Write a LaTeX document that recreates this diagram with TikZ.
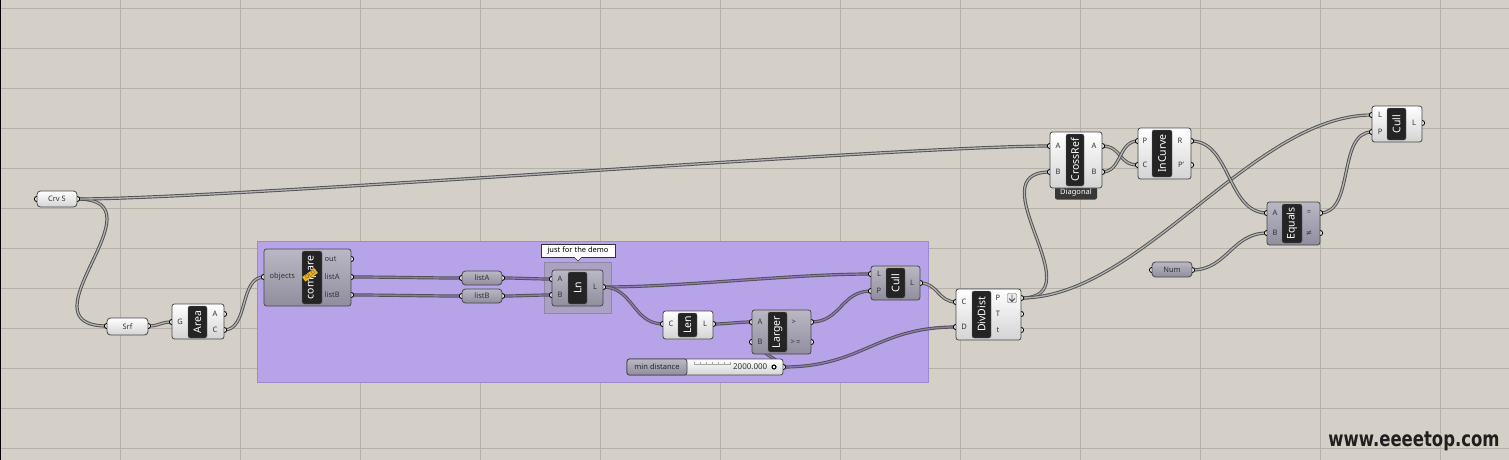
\documentclass[tikz,border=0pt]{standalone}
\usepackage{fontspec}
\setmainfont{Noto Sans}
\newfontfamily\dvs{DejaVu Sans}
\definecolor{canvas}{HTML}{D4D0C8}
\definecolor{gridc}{HTML}{B5B1A9}
\definecolor{grpc}{HTML}{B7A3E8}
\definecolor{grpb}{HTML}{9E8ACB}
\definecolor{lngrp}{HTML}{ABA1C2}
\definecolor{lngrpb}{HTML}{8F87A6}
\definecolor{dktop}{HTML}{BAB8C4}
\definecolor{dkbot}{HTML}{908E9E}
\definecolor{gwc}{HTML}{8A7AB2}
\definecolor{badge}{HTML}{F2B21C}
\pgfdeclarelayer{grid}
\pgfdeclarelayer{grp}
\pgfdeclarelayer{wire}
\pgfdeclarelayer{knob}
\pgfsetlayers{grid,grp,wire,knob,main}
\newcommand{\comp}[6]{\node[#2, minimum width={#5-#3}, minimum height={#6-#4}] (#1) at ({(#3+#5)/2},{(#4+#6)/2}) {};}
\newcommand{\lbl}[6]{\node[lblbox, minimum width={#5-#3}, minimum height={#4-#2}] (#1) at ({(#2+#4)/2},{(#3+#5)/2}) {#6};}
\newcommand{\pin}[3]{\coordinate (#1) at (#2,#3);\begin{pgfonlayer}{knob}\draw[knobst] (#1) circle[radius=2.6pt];\end{pgfonlayer}}
\newcommand{\ptx}[5]{\node[ptxt, anchor=#2] (#1) at (#3,#4) {#5};}
\begin{document}
\begin{tikzpicture}[x=1pt,y=-1pt,
  lt/.style={draw=black!72, line width=0.8pt, rounded corners=2.5pt, top color=white, bottom color=black!17, inner sep=0pt},
  dk/.style={draw=black!72, line width=0.8pt, rounded corners=2.5pt, top color=dktop, bottom color=dkbot, inner sep=0pt},
  prm/.style={lt, rounded corners=3.5pt, font=\fontsize{7.5}{8}\selectfont, text=black!80},
  prmd/.style={dk, rounded corners=3.5pt, font=\fontsize{7.5}{8}\selectfont, text=black!85},
  lblbox/.style={rotate=90, draw=black!55, fill=black!86, rounded corners=2pt, text=white, inner sep=0pt, font=\bfseries\fontsize{10.5}{10.5}\selectfont},
  knobst/.style={fill=white, draw=black, line width=0.9pt},
  ptxt/.style={inner sep=0.5pt, font=\fontsize{7.5}{8}\selectfont, text=black!80},
  wire/.style={double=#1, double distance=1.3pt, line width=0.95pt, draw=black!68},
  wire/.default={black!30},
  gwire/.style={wire=gwc}
]
\useasboundingbox (0,0) rectangle (1509,460);
% ---------------- canvas and grid
\begin{pgfonlayer}{grid}
\fill[canvas] (0,0) rectangle (1509,460);
\foreach \gx in {120,240,...,1440} \draw[gridc, line width=0.8pt] (\gx,0) -- (\gx,460);
\foreach \gy in {8,48,...,448} \draw[gridc, line width=0.8pt] (0,\gy) -- (1509,\gy);
\draw[black, line width=1.2pt] (0.6,0) -- (0.6,460);
\end{pgfonlayer}
% ---------------- groups
\begin{pgfonlayer}{grp}
\node[draw=grpb, fill=grpc, line width=0.8pt, minimum width=671, minimum height=141, inner sep=0pt] (grp) at (592.5,311.5) {};
\node[draw=lngrpb, fill=lngrp, line width=0.6pt, minimum width=67, minimum height=51, inner sep=0pt] (lngroup) at (577.5,287.5) {};
\end{pgfonlayer}
% tooltip
\node[draw=black!80, fill=white, font=\fontsize{7.5}{8}\selectfont, inner sep=0pt, minimum width=74, minimum height=13] (tip) at (578,250.5) {just for the demo};
\draw[black!80, fill=white, line width=0.4pt] (574,257) -- (578,261) -- (582,257);
\fill[white] (574.6,256.6) rectangle (581.4,257.6);
% ---------------- Crv S
\comp{crvs}{prm}{37}{191}{77}{207}
\node[ptxt, font=\fontsize{7.5}{8}\selectfont] (crvs-t) at (57,199) {Crv S};
\pin{crvs-i}{37}{199}\pin{crvs-o}{77}{199}
% ---------------- Srf
\comp{srf}{prm}{107}{318}{148}{335}
\node[ptxt, font=\fontsize{7.5}{8}\selectfont] (srf-t) at (127.5,326.5) {Srf};
\pin{srf-i}{107}{326}\pin{srf-o}{148}{326}
% ---------------- Area
\comp{area}{lt}{172}{304}{224}{339}
\lbl{area-l}{188}{306}{207}{338}{Area}
\pin{area-G}{172}{322}\pin{area-A}{224}{314}\pin{area-C}{224}{330}
\ptx{area-tG}{center}{180}{322}{G}\ptx{area-tA}{center}{215}{314}{A}\ptx{area-tC}{center}{215}{330}{C}
% ---------------- compare
\comp{cmp}{dk}{264}{249}{351}{306}
\lbl{cmp-l}{302}{251}{322}{304}{compare}
\node[fill=badge, rotate=35, font=\bfseries\fontsize{5.5}{6}\selectfont, inner xsep=2pt, inner ysep=0.8pt, text=black!65] (cmp-old) at (310,275) {OLD};
\pin{cmp-obj}{264}{277}\pin{cmp-out}{351}{259}\pin{cmp-lA}{351}{277}\pin{cmp-lB}{351}{295}
\ptx{cmp-t1}{west}{269}{277}{objects}\ptx{cmp-t2}{west}{324}{259}{out}\ptx{cmp-t3}{west}{324}{277}{listA}\ptx{cmp-t4}{west}{324}{295}{listB}
% ---------------- listA / listB
\comp{lA}{prmd}{462}{271}{502}{285}
\node[ptxt] (lA-t) at (482,278) {listA};
\pin{lA-i}{462}{278}\pin{lA-o}{502}{278}
\comp{lB}{prmd}{462}{289}{502}{303}
\node[ptxt] (lB-t) at (482,296) {listB};
\pin{lB-i}{462}{296}\pin{lB-o}{502}{296}
% ---------------- Ln
\comp{ln}{dk}{552}{270}{603}{306}
\lbl{ln-l}{568}{272}{587}{304}{Ln}
\pin{ln-A}{552}{279}\pin{ln-B}{552}{295}\pin{ln-L}{603}{287}
\ptx{ln-tA}{center}{560}{279}{A}\ptx{ln-tB}{center}{560}{295}{B}\ptx{ln-tL}{center}{595}{287}{L}
% ---------------- Len
\comp{len}{lt}{663}{311}{713}{339}
\lbl{len-l}{678}{313}{697}{337}{Len}
\pin{len-C}{663}{324}\pin{len-L}{713}{324}
\ptx{len-tC}{center}{671}{324}{C}\ptx{len-tL}{center}{705}{324}{L}
% ---------------- Larger
\comp{lg}{dk}{752}{310}{811}{354}
\lbl{lg-l}{768}{312}{787}{352}{Larger}
\pin{lg-A}{752}{322}\pin{lg-B}{752}{342}\pin{lg-gt}{811}{322}\pin{lg-ge}{811}{342}
\ptx{lg-tA}{center}{760}{322}{A}\ptx{lg-tB}{center}{760}{342}{B}\ptx{lg-tg}{west}{791}{322}{>}\ptx{lg-te}{west}{790}{342}{>\,=}
% ---------------- Cull 1
\comp{cu1}{dk}{871}{266}{920}{300}
\lbl{cu1-l}{886}{268}{905}{298}{Cull}
\pin{cu1-L}{871}{274}\pin{cu1-P}{871}{291}\pin{cu1-o}{920}{283}
\ptx{cu1-tL}{center}{879}{274}{L}\ptx{cu1-tP}{center}{879}{291}{P}\ptx{cu1-tO}{center}{912}{283}{L}
% ---------------- slider
\comp{sl}{lt}{627}{359}{783}{375}
\node[dk, rounded corners=2.5pt, minimum width=60, minimum height=16, font=\fontsize{7.5}{8}\selectfont, text=black!85] (sl-n) at (657,367) {min distance};
\draw[black!35, line width=0.5pt] (694,364) -- (731,364);
\foreach \tx in {694,700,...,730} \draw[black!35, line width=0.5pt] (\tx,362) -- (\tx,364);
\node[ptxt, anchor=east, font=\fontsize{8}{8}\selectfont] (sl-v) at (768,366.5) {2000.000};
\draw[black, line width=1.1pt, fill=white] (774,367) circle[radius=2pt];
\pin{sl-o}{783}{367}
% ---------------- DivDist
\comp{dd}{lt}{956}{289}{1021}{340}
\lbl{dd-l}{972}{291}{991}{338}{DivDist}
\pin{dd-C}{956}{302}\pin{dd-D}{956}{327}\pin{dd-P}{1021}{298}\pin{dd-T}{1021}{314}\pin{dd-t}{1021}{330}
\ptx{dd-tC}{center}{964}{302}{C}\ptx{dd-tD}{center}{964}{327}{D}\ptx{dd-tP}{center}{998}{298}{P}\ptx{dd-tT}{center}{998}{314}{T}\ptx{dd-tt}{center}{998}{330}{t}
\node[draw=black!60, fill=black!8, rounded corners=1pt, minimum size=9, inner sep=0pt] (dd-ic) at (1012,298) {};
\draw[black!70, line width=0.8pt] (1012,294.5) -- (1012,301.3) (1009,298.5) -- (1012,301.5) -- (1015,298.5);
% ---------------- CrossRef
\node[fill=black!78, rounded corners=2pt, text=white, font=\fontsize{7.5}{8}\selectfont, minimum width=42, minimum height=13, inner sep=0pt] (cr-tab) at (1076,193) {\raisebox{-1.5pt}{Diagonal}};
\comp{cr}{lt}{1050}{132}{1102}{188}
\lbl{cr-l}{1066}{134}{1084}{186}{CrossRef}
\pin{cr-Ai}{1050}{146}\pin{cr-Bi}{1050}{172}\pin{cr-Ao}{1102}{146}\pin{cr-Bo}{1102}{172}
\ptx{cr-t1}{center}{1058}{146}{A}\ptx{cr-t2}{center}{1058}{172}{B}\ptx{cr-t3}{center}{1094}{146}{A}\ptx{cr-t4}{center}{1094}{172}{B}
% ---------------- InCurve
\comp{inc}{lt}{1138}{128}{1191}{179}
\lbl{inc-l}{1152}{130}{1172}{177}{InCurve}
\pin{inc-P}{1138}{141}\pin{inc-C}{1138}{165}\pin{inc-R}{1191}{141}\pin{inc-Pp}{1191}{165}
\ptx{inc-t1}{center}{1145}{141}{P}\ptx{inc-t2}{center}{1145}{165}{C}\ptx{inc-t3}{center}{1180}{141}{R}\ptx{inc-t4}{center}{1181}{165}{P'}
% ---------------- Num
\comp{num}{prmd}{1152}{262}{1192}{277}
\node[ptxt] (num-t) at (1172,269.5) {Num};
\pin{num-i}{1152}{270}\pin{num-o}{1192}{270}
% ---------------- Equals
\comp{eq}{dk}{1267}{202}{1320}{245}
\lbl{eq-l}{1282}{204}{1302}{243}{Equals}
\pin{eq-A}{1267}{213}\pin{eq-B}{1267}{233}\pin{eq-E}{1320}{213}\pin{eq-N}{1320}{233}
\ptx{eq-t1}{center}{1275}{213}{A}\ptx{eq-t2}{center}{1275}{233}{B}\ptx{eq-t3}{center}{1309}{213}{=}\ptx{eq-t4}{center}{1309}{233}{\dvs ≠}
% ---------------- Cull 2
\comp{cu2}{lt}{1372}{106}{1422}{142}
\lbl{cu2-l}{1387}{108}{1406}{140}{Cull}
\pin{cu2-L}{1372}{115}\pin{cu2-P}{1372}{132}\pin{cu2-o}{1422}{123}
\ptx{cu2-t1}{center}{1380}{115}{L}\ptx{cu2-t2}{center}{1380}{132}{P}\ptx{cu2-t3}{center}{1414}{123}{L}
% ---------------- wires
\begin{pgfonlayer}{wire}
\draw[wire] (crvs-o) .. controls +(90,0) and +(-90,0) .. (srf-i);
\draw[wire] (crvs-o) .. controls +(150,0) and +(-150,0) .. (cr-Ai);
\draw[wire] (srf-o) .. controls +(12,0) and +(-12,0) .. (area-G);
\draw[wire] (area-C) .. controls +(25,0) and +(-25,0) .. (cmp-obj);
\draw[gwire] (cmp-lA) .. controls +(40,0) and +(-40,0) .. (lA-i);
\draw[gwire] (cmp-lB) .. controls +(40,0) and +(-40,0) .. (lB-i);
\draw[gwire] (lA-o) .. controls +(20,0) and +(-20,0) .. (ln-A);
\draw[gwire] (lB-o) .. controls +(20,0) and +(-20,0) .. (ln-B);
\draw[gwire] (ln-L) .. controls +(80,0) and +(-80,0) .. (cu1-L);
\draw[gwire] (ln-L) .. controls +(30,0) and +(-30,0) .. (len-C);
\draw[gwire] (len-L) .. controls +(15,0) and +(-15,0) .. (lg-A);
\draw[gwire] (lg-gt) .. controls +(30,0) and +(-30,0) .. (cu1-P);
\draw[gwire] (sl-o) .. controls +(6,0) and +(-6,0) .. (lg-B);
\draw[gwire] (sl-o) .. controls +(80,0) and +(-80,0) .. (dd-D);
\draw[wire] (cu1-o) .. controls +(18,0) and +(-18,0) .. (dd-C);
\draw[wire] (dd-P) .. controls +(75,0) and +(-75,0) .. (cr-Bi);
\draw[wire] (dd-P) .. controls +(120,0) and +(-120,0) .. (cu2-L);
\draw[wire] (cr-Ao) .. controls +(20,0) and +(-20,0) .. (inc-C);
\draw[wire] (cr-Bo) .. controls +(20,0) and +(-20,0) .. (inc-P);
\draw[wire] (inc-R) .. controls +(40,0) and +(-40,0) .. (eq-A);
\draw[wire] (num-o) .. controls +(35,0) and +(-35,0) .. (eq-B);
\draw[wire] (eq-E) .. controls +(35,0) and +(-35,0) .. (cu2-P);
\end{pgfonlayer}
% ---------------- watermark
\node[font=\dvs\bfseries\fontsize{21}{22}\selectfont, text=black!88, inner sep=0pt] (wm) at (1414,441) {\scalebox{0.785}[1]{www.eeeetop.com}};
\end{tikzpicture}
\end{document}
